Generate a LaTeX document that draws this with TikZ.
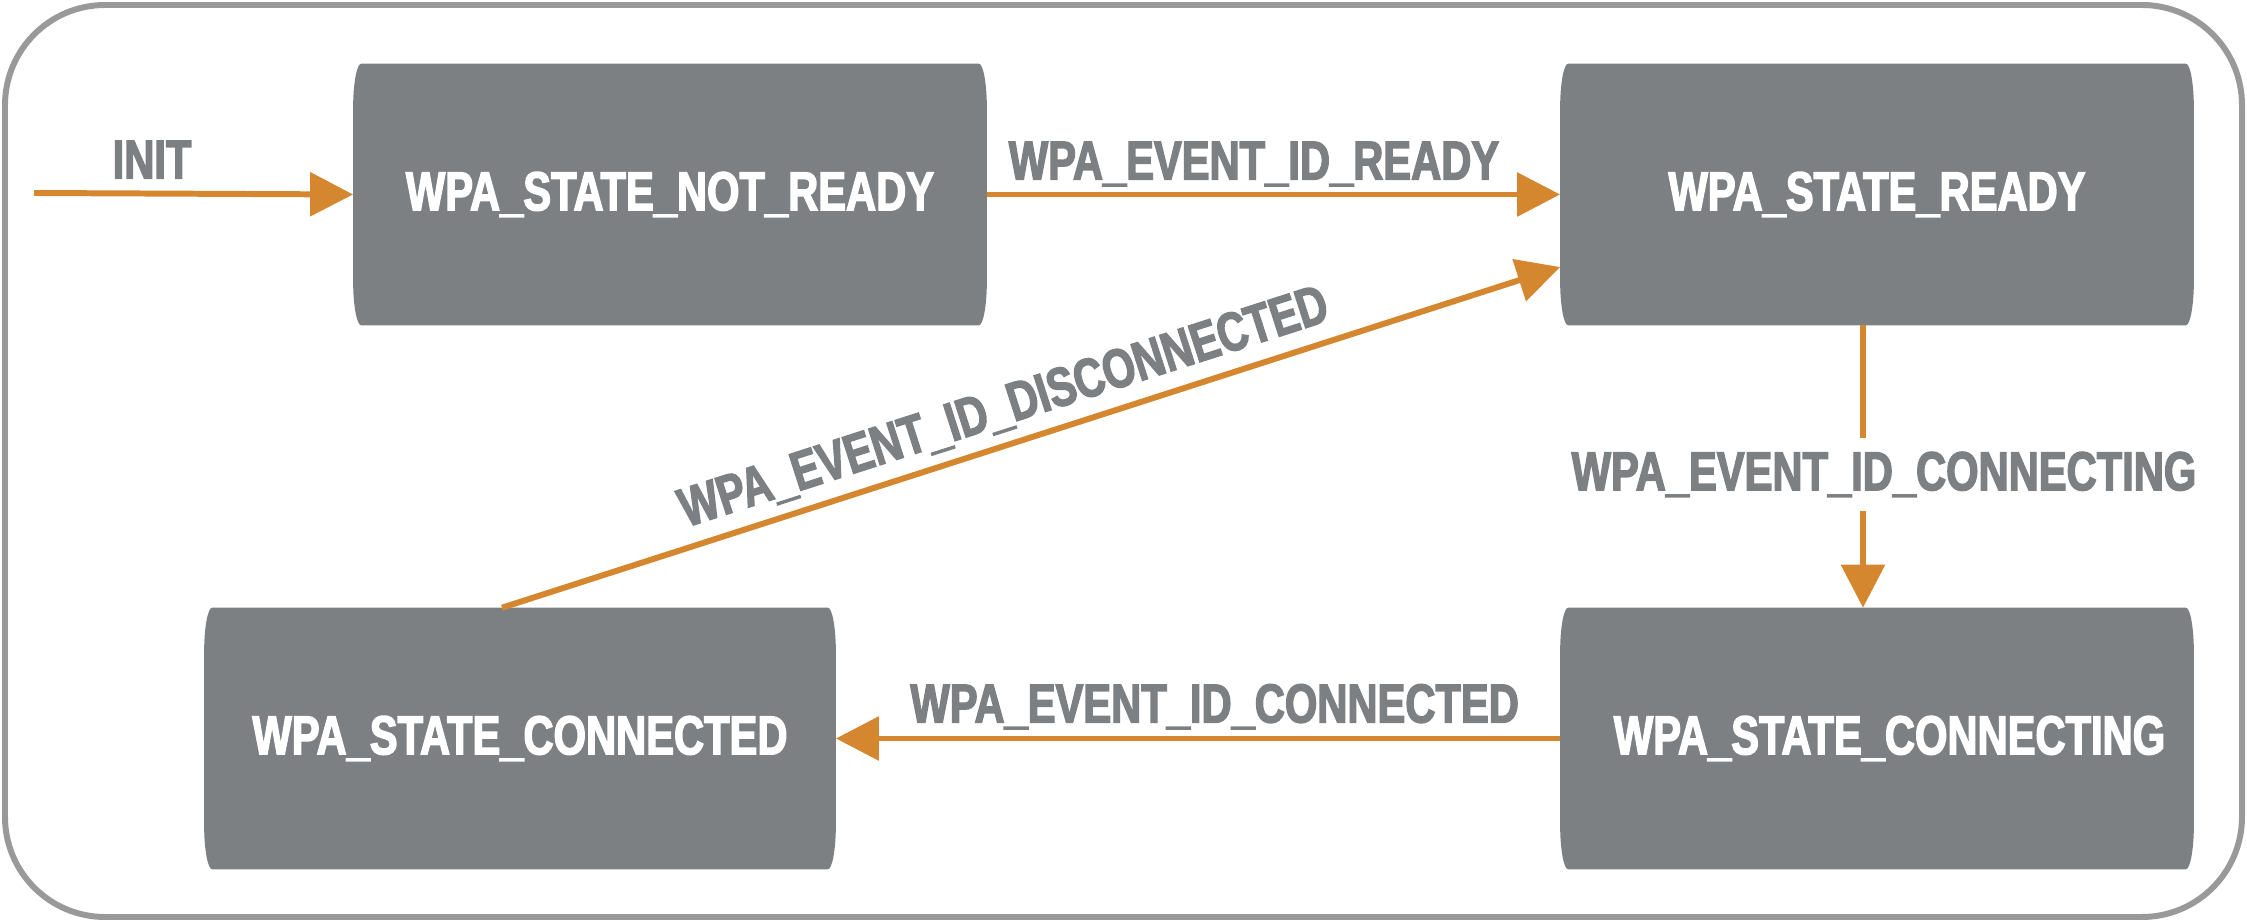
\documentclass[tikz,border=0pt]{standalone}
\usepackage{fontspec}
\setmainfont{Liberation Sans}[FakeStretch=0.76, BoldFeatures={FakeBold=2.5}]
\usetikzlibrary{arrows.meta,backgrounds}
\definecolor{boxgray}{HTML}{7D8083}
\definecolor{orng}{HTML}{D4872F}
\definecolor{framegray}{HTML}{999999}
\newcommand\stshape[1]{\fill[boxgray] ([xshift=0.08cm]#1.north west) -- ([xshift=-0.08cm]#1.north east) arc[start angle=90,end angle=0,x radius=0.08cm,y radius=0.45cm] -- ([yshift=0.45cm]#1.south east) arc[start angle=0,end angle=-90,x radius=0.08cm,y radius=0.45cm] -- ([xshift=0.08cm]#1.south west) arc[start angle=-90,end angle=-180,x radius=0.08cm,y radius=0.45cm] -- ([yshift=-0.45cm]#1.north west) arc[start angle=180,end angle=90,x radius=0.08cm,y radius=0.45cm] -- cycle;}
\tikzset{
  txt/.style={font=\bfseries\fontsize{15.6}{17}\selectfont},
  stbox/.style={txt, text=white, inner sep=0pt, minimum width=6.32cm, minimum height=2.6cm},
  lbl/.style={txt, text=boxgray, inner sep=1pt},
  arr/.style={draw=orng, line width=1.7pt, -{Triangle[length=0.43cm,width=0.43cm]}}
}
\begin{document}
\begin{tikzpicture}[x=0.01cm,y=-0.01cm]
\useasboundingbox (0,0) rectangle (2247,922);
\draw[framegray, line width=1.7pt, rounded corners=1cm] (5,5) rectangle (2242,917);
\node[stbox] (nr) at (670,194.5) {WPA\_STATE\_NOT\_READY};
\node[stbox] (rd) at (1877,194.5) {WPA\_STATE\_READY};
\node[stbox, minimum width=6.3cm] (cd) at (520,738.5) {WPA\_STATE\_CONNECTED};
\node[stbox] (cg) at (1877,738.5) {\hspace{0.25cm}WPA\_STATE\_CONNECTING};
\begin{scope}[on background layer]
\stshape{nr}\stshape{rd}\stshape{cd}\stshape{cg}
\end{scope}
\coordinate (init) at (34,193);
\draw[arr] (init) -- node[lbl, pos=0.37, anchor=base, yshift=0.15cm] {INIT} (nr.west);
\draw[arr] (nr.east) -- node[lbl, pos=0.466, anchor=base, yshift=0.15cm] {WPA\_EVENT\_ID\_READY} (rd.west);
\draw[arr] ([xshift=-0.14cm]rd.south) -- node[lbl, pos=0.528, fill=white, inner sep=4pt, xshift=0.21cm] {WPA\_EVENT\_ID\_CONNECTING} ([xshift=-0.14cm]cg.north);
\draw[arr] (cg.west) -- node[lbl, pos=0.477, anchor=base, yshift=0.16cm] {WPA\_EVENT\_ID\_CONNECTED} (cd.east);
\draw[arr] ([xshift=-0.18cm]cd.north) -- node[lbl, pos=0.485, sloped, anchor=base, yshift=0.2cm] {WPA\_EVENT\_ID\_DISCONNECTED} ([yshift=-0.725cm]rd.west);
\end{tikzpicture}
\end{document}
